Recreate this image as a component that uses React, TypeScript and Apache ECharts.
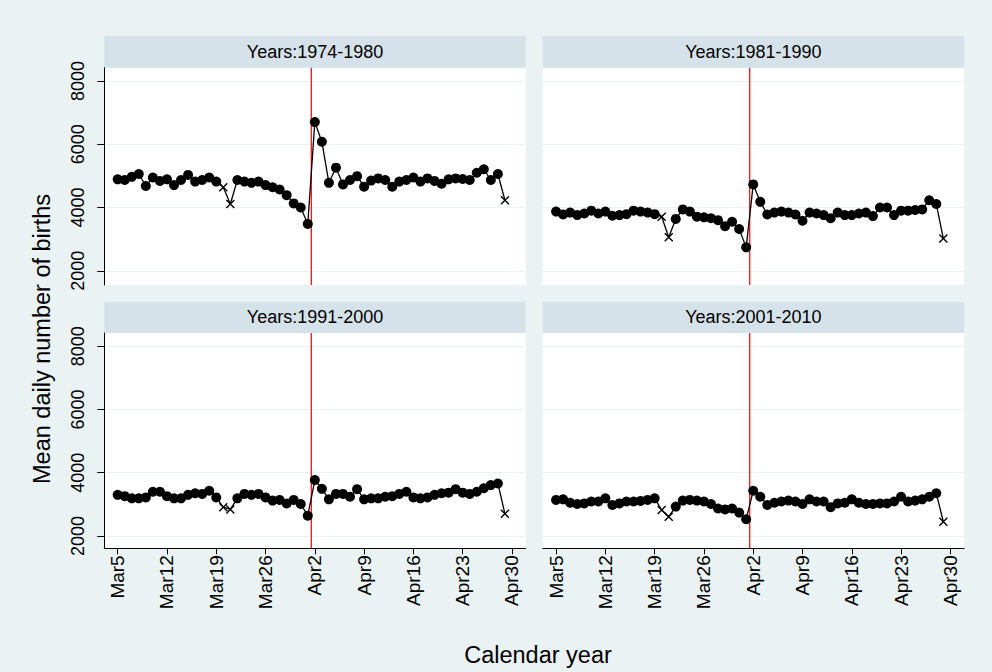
import React, { useEffect, useRef } from "react";
import * as echarts from "echarts";

// Day offsets counted from March 5 (0 = Mar 5, 55 = Apr 29)
const days = [
  0, 1, 2, 3, 4, 5, 6, 7, 8, 9, 10, 11, 12, 13, 14, 15, 16, 17, 18, 19,
  20, 21, 22, 23, 24, 25, 26, 27, 28, 29, 30, 31, 32, 33, 34, 35, 36, 37, 38, 39,
  40, 41, 42, 43, 44, 45, 46, 47, 48, 49, 50, 51, 52, 53, 54, 55,
];

// Days drawn with an "x" marker instead of a filled dot
const crossDays = [15, 16, 55];

// Tick positions (day offsets) and their labels
const tickDays = [0, 7, 14, 21, 28, 35, 42, 49, 56];
const tickLabels = ["Mar5", "Mar12", "Mar19", "Mar26", "Apr2", "Apr9", "Apr16", "Apr23", "Apr30"];
const yTicks = [2000, 4000, 6000, 8000];

// Vertical reference line between Apr 1 and Apr 2
const refDay = 27.5;

const panelTitles = ["Years:1974-1980", "Years:1981-1990", "Years:1991-2000", "Years:2001-2010"];

const births1974 = [
  4890, 4870, 4970, 5060, 4680, 4950, 4840, 4890, 4710, 4870, 5030, 4820, 4870, 4950, 4820,
  4640, 4110, 4870, 4820, 4780, 4820, 4710, 4640, 4570, 4390, 4130, 4000, 3480, 6700, 6080,
  4780, 5260, 4730, 4870, 4990, 4660, 4850, 4920, 4870, 4660, 4820, 4870, 4950, 4820, 4920,
  4840, 4750, 4890, 4920, 4900, 4870, 5100, 5210, 4870, 5060, 4230,
];

const births1981 = [
  3870, 3780, 3840, 3760, 3810, 3900, 3810, 3870, 3740, 3760, 3790, 3900, 3870, 3840, 3790,
  3710, 3060, 3640, 3940, 3870, 3710, 3690, 3660, 3600, 3410, 3550, 3320, 2740, 4730, 4180,
  3780, 3840, 3870, 3840, 3780, 3580, 3840, 3810, 3760, 3660, 3840, 3760, 3760, 3810, 3840,
  3730, 4000, 4000, 3760, 3900, 3900, 3920, 3940, 4230, 4110, 3020,
];

const births1991 = [
  3300, 3260, 3190, 3190, 3220, 3400, 3400, 3260, 3190, 3190, 3300, 3350, 3330, 3430, 3220,
  2910, 2840, 3190, 3330, 3300, 3330, 3220, 3120, 3140, 3030, 3140, 3010, 2640, 3770, 3490,
  3160, 3330, 3330, 3240, 3480, 3160, 3190, 3190, 3240, 3260, 3330, 3400, 3220, 3190, 3220,
  3300, 3350, 3370, 3480, 3370, 3330, 3400, 3510, 3610, 3660, 2700,
];

const births2001 = [
  3140, 3160, 3050, 3010, 3030, 3090, 3090, 3190, 2980, 3030, 3090, 3090, 3110, 3140, 3190,
  2820, 2610, 2930, 3120, 3140, 3120, 3090, 3010, 2870, 2840, 2870, 2740, 2530, 3430, 3240,
  2980, 3050, 3090, 3120, 3090, 3010, 3160, 3090, 3090, 2910, 3030, 3050, 3160, 3050, 3010,
  3010, 3030, 3030, 3090, 3240, 3090, 3120, 3160, 3240, 3350, 2450,
];

const panelValues = [births1974, births1981, births1991, births2001];

const FONT = "'Liberation Sans', Arial, Helvetica, sans-serif";
const BG = "#eaf2f3";
const STRIP = "#d6e2e9";
const REF_RED = "#ff0000";
const CROSS = "path://M0,0L10,10M10,0L0,10";

// Panel geometry (pixels)
const COL_LEFT = [104.3, 542.7];
const PLOT_W = 421.4;
const ROW_TOP = [67.7, 333];
const ROW_H = [217.3, 215.3];
const STRIP_TOP = [35.7, 301.7];
const Y_RANGE = [
  [1550, 8420],
  [1610, 8420],
];

function buildOption(): echarts.EChartsCoreOption {
  const grids: any[] = [];
  const xAxes: any[] = [];
  const yAxes: any[] = [];
  const series: any[] = [];
  const graphics: any[] = [];

  for (let p = 0; p < 4; p++) {
    const row = Math.floor(p / 2);
    const col = p % 2;
    const left = COL_LEFT[col];
    const top = ROW_TOP[row];
    const h = ROW_H[row];
    const [yMin, yMax] = Y_RANGE[row];

    grids.push({ left, top, width: PLOT_W, height: h, backgroundColor: "#fff", show: true, borderWidth: 0 });

    xAxes.push({
      type: "value",
      gridIndex: p,
      min: -1.9,
      max: 57.95,
      show: row === 1,
      splitLine: { show: false },
      axisLine: { show: true, onZero: false, lineStyle: { color: "#000", width: 1 } },
      axisTick: {
        show: true,
        length: 6,
        customValues: tickDays,
        lineStyle: { color: "#000", width: 1 },
      },
      axisLabel: {
        show: true,
        rotate: 90,
        margin: 7,
        customValues: tickDays,
        color: "#000",
        fontFamily: FONT,
        fontSize: 19,
        formatter: (v: number) => {
          const k = tickDays.indexOf(Math.round(v));
          return k >= 0 ? tickLabels[k] : "";
        },
      },
    });

    yAxes.push({
      type: "value",
      gridIndex: p,
      min: yMin,
      max: yMax,
      axisLine: { show: col === 0, onZero: false, lineStyle: { color: "#000", width: 1 } },
      axisTick: {
        show: col === 0,
        length: 7,
        customValues: yTicks,
        lineStyle: { color: "#000", width: 1 },
      },
      axisLabel: {
        show: col === 0,
        rotate: 90,
        margin: 17,
        customValues: yTicks,
        color: "#000",
        fontFamily: FONT,
        fontSize: 18,
        formatter: (v: number) => String(Math.round(v)),
      },
      splitLine: {
        show: true,
        customValues: yTicks,
        lineStyle: { color: BG, width: 1.2 },
      },
    });

    // Red vertical reference line spanning the whole plot height
    series.push({
      type: "line",
      xAxisIndex: p,
      yAxisIndex: p,
      data: [
        [refDay, yMin],
        [refDay, yMax],
      ],
      symbol: "none",
      silent: true,
      lineStyle: { color: REF_RED, width: 1.2 },
      itemStyle: { color: REF_RED },
      z: 1,
    });

    const values = panelValues[p];
    const data = days.map((d, i) =>
      crossDays.includes(d)
        ? {
            value: [d, values[i]],
            symbol: CROSS,
            symbolSize: 8,
            itemStyle: { color: "none", borderColor: "#000", borderWidth: 1.4 },
          }
        : [d, values[i]]
    );

    series.push({
      type: "line",
      xAxisIndex: p,
      yAxisIndex: p,
      data,
      symbol: "circle",
      symbolSize: 10,
      showSymbol: true,
      itemStyle: { color: "#000" },
      lineStyle: { color: "#000", width: 1.3 },
      z: 3,
    });

    // Panel header strip
    graphics.push({
      type: "rect",
      shape: { x: left, y: STRIP_TOP[row], width: PLOT_W, height: top - STRIP_TOP[row] },
      style: { fill: STRIP },
      silent: true,
    });
    graphics.push({
      type: "text",
      x: left + PLOT_W / 2,
      y: (STRIP_TOP[row] + top) / 2,
      style: {
        text: panelTitles[p],
        fill: "#000",
        font: `18px ${FONT}`,
        textAlign: "center",
        textVerticalAlign: "middle",
      },
      silent: true,
    });
  }

  // Axis titles
  graphics.push({
    type: "text",
    x: 42,
    y: 339,
    rotation: Math.PI / 2,
    style: {
      text: "Mean daily number of births",
      fill: "#000",
      font: `23.5px ${FONT}`,
      textAlign: "center",
      textVerticalAlign: "middle",
    },
    silent: true,
  });
  graphics.push({
    type: "text",
    x: 538,
    y: 655,
    style: {
      text: "Calendar year",
      fill: "#000",
      font: `23.5px ${FONT}`,
      textAlign: "center",
      textVerticalAlign: "middle",
    },
    silent: true,
  });

  return {
    animation: false,
    backgroundColor: BG,
    textStyle: { fontFamily: FONT },
    grid: grids,
    xAxis: xAxes,
    yAxis: yAxes,
    series,
    graphic: { elements: graphics },
  };
}

export default function App() {
  const ref = useRef<HTMLDivElement>(null);

  useEffect(() => {
    if (!ref.current) return;
    const chart = echarts.init(ref.current, undefined, { renderer: "svg" });
    chart.setOption(buildOption());
    return () => chart.dispose();
  }, []);

  return (
    <div
      ref={ref}
      style={{ position: "absolute", left: 0, top: 0, width: 992, height: 672 }}
    />
  );
}
